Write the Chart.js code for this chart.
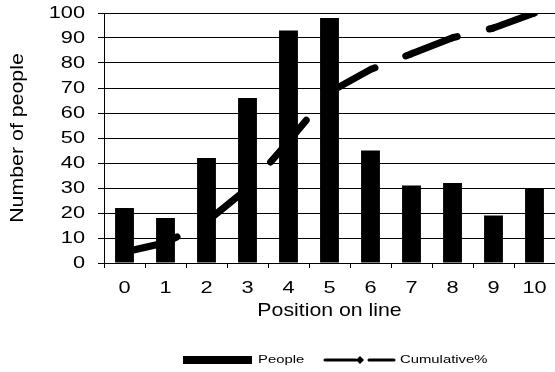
<!DOCTYPE html>
<html>
<head>
<meta charset="utf-8">
<script src="https://cdn.jsdelivr.net/npm/chart.js@4/dist/chart.umd.min.js"></script>
<style>
  html, body { margin: 0; padding: 0; background: #fff; }
  #wrap { width: 555px; height: 372px; position: relative; }
</style>
</head>
<body>
<div id="wrap"><canvas id="c" width="555" height="372"></canvas></div>
<script>
// Queue positions and how many people stood at each
const positions = ['0', '1', '2', '3', '4', '5', '6', '7', '8', '9', '10'];
const people = [22, 18, 42, 66, 93, 98, 45, 31, 32, 19, 30];
// Running share of all people, in percent
const cumulativePct = [4.4, 8.1, 16.5, 29.8, 48.6, 68.3, 77.4, 83.7, 90.1, 94.0, 100];
const yTicks = [0, 10, 20, 30, 40, 50, 60, 70, 80, 90, 100];

const FONT = "'Liberation Sans', Arial, Helvetica, sans-serif";

// Text in this chart is set wide: each font size gets its own horizontal stretch
const TEXT_STRETCH = { '17': 1.28, '17.5': 1.22, '18.5': 1.15, '11': 1.35 };

const canvas = document.getElementById('c');
const ctx2d = canvas.getContext('2d');
const nativeFillText = ctx2d.fillText;
ctx2d.fillText = function (text, x, y, maxWidth) {
  const m = /([\d.]+)px/.exec(this.font);
  const k = m && TEXT_STRETCH[m[1]] ? TEXT_STRETCH[m[1]] : 1;
  this.save();
  this.translate(x, y);
  this.scale(k, 1);
  if (maxWidth === undefined) nativeFillText.call(this, text, 0, 0);
  else nativeFillText.call(this, text, 0, 0, maxWidth / k);
  this.restore();
};

// Legend drawn under the plot: a wide block for the bars, a dashed line with a diamond for the line
const bottomLegend = {
  id: 'bottomLegend',
  afterDraw(chart) {
    const ctx = chart.ctx;
    const ds = chart.data.datasets;
    const y = 360;
    ctx.save();
    ctx.font = '11px ' + FONT;
    ctx.textBaseline = 'middle';
    ctx.textAlign = 'left';
    ctx.fillStyle = '#000';
    // bar swatch
    ctx.fillRect(183, 356, 69, 8);
    ctx.fillText(ds[0].label, 258, y);
    // line swatch
    ctx.strokeStyle = '#000';
    ctx.lineWidth = 3;
    ctx.lineCap = 'round';
    ctx.beginPath();
    ctx.moveTo(325, y); ctx.lineTo(356, y);
    ctx.moveTo(369, y); ctx.lineTo(394, y);
    ctx.stroke();
    ctx.beginPath();
    ctx.moveTo(360, y - 4); ctx.lineTo(364, y); ctx.lineTo(360, y + 4); ctx.lineTo(356, y);
    ctx.closePath();
    ctx.fill();
    ctx.fillText(ds[1].label, 400, y);
    ctx.restore();
  }
};

new Chart(canvas, {
  data: {
    labels: positions,
    datasets: [
      {
        type: 'bar',
        label: 'People',
        data: people,
        backgroundColor: '#000',
        borderWidth: 0,
        barPercentage: 0.46,
        categoryPercentage: 1,
        order: 2
      },
      {
        type: 'line',
        label: 'Cumulative%',
        data: cumulativePct,
        borderColor: '#000',
        backgroundColor: '#000',
        borderWidth: 7,
        borderDash: [55, 33],
        borderCapStyle: 'round',
        borderJoinStyle: 'round',
        tension: 0,
        pointStyle: 'rectRot',
        pointRadius: 4,
        pointBorderWidth: 0,
        order: 1
      }
    ]
  },
  options: {
    responsive: false,
    animation: false,
    devicePixelRatio: 1,
    layout: { autoPadding: false, padding: { top: 13, right: 0, bottom: 49, left: 0 } },
    plugins: {
      legend: { display: false },
      tooltip: { enabled: false }
    },
    scales: {
      x: {
        type: 'category',
        offset: true,
        grid: {
          offset: true,
          drawOnChartArea: false,
          drawTicks: true,
          tickLength: 5,
          color: '#000'
        },
        border: { display: true, color: '#000', width: 1 },
        ticks: {
          color: '#000',
          font: { family: FONT, size: 17 },
          padding: 10,
          maxRotation: 0,
          autoSkip: false
        },
        title: {
          display: true,
          text: 'Position on line',
          color: '#000',
          font: { family: FONT, size: 18.5 },
          padding: { top: 0, bottom: 1 }
        },
        afterFit(scale) {
          scale.height = 60;
          scale.paddingLeft = 0;
          scale.paddingRight = 0;
        }
      },
      y: {
        min: 0,
        max: 100,
        afterBuildTicks(scale) { scale.ticks = yTicks.map(v => ({ value: v })); },
        grid: {
          color: '#000',
          lineWidth: 1,
          borderDash: [2, 1],
          drawTicks: true,
          tickLength: 6,
          tickBorderDash: [],
          tickColor: '#000'
        },
        border: { display: true, color: '#000', width: 1 },
        ticks: {
          color: '#000',
          font: { family: FONT, size: 17 },
          padding: 13
        },
        title: {
          display: true,
          text: 'Number of people',
          color: '#000',
          font: { family: FONT, size: 17.5 },
          padding: { top: 8, bottom: 0 }
        },
        afterFit(scale) {
          scale.width = 104;
          scale.paddingTop = 0;
          scale.paddingBottom = 0;
        }
      }
    }
  },
  plugins: [bottomLegend]
});
</script>
</body>
</html>
